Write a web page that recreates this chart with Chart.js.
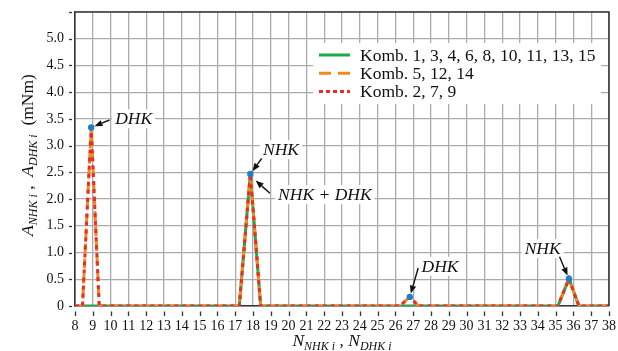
<!DOCTYPE html>
<html>
<head>
<meta charset="utf-8">
<script src="https://cdn.jsdelivr.net/npm/chart.js@4.4.0/dist/chart.umd.min.js"></script>
<style>
  html, body { margin: 0; padding: 0; background: #fff; }
  #wrap { width: 618px; height: 351px; position: relative; }
</style>
</head>
<body>
<div id="wrap"><canvas id="chart"></canvas></div>
<script>
const komb1X = [8, 17.23, 17.85, 18.43, 35.13, 35.75, 36.31, 38];
const komb1Y = [0, 0, 2.47, 0, 0, 0.51, 0, 0];

const komb5X = [8, 8.42, 8.91, 9.36, 17.23, 17.85, 18.43, 26.25, 26.81, 27.30, 35.13, 35.75, 36.31, 38];
const komb5Y = [0, 0, 3.34, 0, 0, 2.47, 0, 0, 0.17, 0, 0, 0.51, 0, 0];

const komb2X = [8, 8.42, 8.91, 9.36, 17.23, 17.85, 18.43, 26.25, 26.81, 27.30, 35.13, 35.75, 36.31, 38];
const komb2Y = [0, 0, 3.34, 0, 0, 2.47, 0, 0, 0.17, 0, 0, 0.51, 0, 0];

const peakX = [8.91, 17.85, 26.81, 35.75];
const peakY = [3.34, 2.47, 0.17, 0.51];

const legendLabels = ['Komb. 1, 3, 4, 6, 8, 10, 11, 13, 15', 'Komb. 5, 12, 14', 'Komb. 2, 7, 9'];

const xMin = 8, xMax = 38, yMin = 0, yMax = 5.5;

// annotations: text anchor (left, baseline) and arrow tail / head in data units
const notes = [
    { text: 'DHK', x: 10.26, y: 3.40, tail: [9.94, 3.48], head: [8.91, 3.34] },
    { text: 'NHK', x: 18.56, y: 2.82, tail: [18.49, 2.76], head: [17.85, 2.47] },
    { text: 'NHK + DHK', x: 19.41, y: 1.98, tail: [18.95, 2.11], head: [18.0, 2.39] },
    { text: 'DHK', x: 27.47, y: 0.64, tail: [27.28, 0.71], head: [26.81, 0.17] },
    { text: 'NHK', x: 33.26, y: 0.97, tail: [35.22, 0.92], head: [35.75, 0.51] }
];

const SERIF = '"Liberation Serif", "Times New Roman", serif';

function toPoints(xs, ys) {
    return xs.map((x, i) => ({ x: x, y: ys[i] }));
}

function drawRuns(ctx, runs, cx, baseline) {
    let total = 0;
    runs.forEach(r => { ctx.font = r.f; total += ctx.measureText(r.t).width; });
    let x = cx - total / 2;
    ctx.textAlign = 'left';
    ctx.textBaseline = 'alphabetic';
    runs.forEach(r => {
        ctx.font = r.f;
        ctx.fillText(r.t, x, baseline + (r.dy || 0));
        x += ctx.measureText(r.t).width;
    });
}

function drawArrow(ctx, x1, y1, x2, y2) {
    const ang = Math.atan2(y2 - y1, x2 - x1);
    const back = 3.5;
    const hx = x2 - Math.cos(ang) * back, hy = y2 - Math.sin(ang) * back;
    const len = 8, wid = 3.2;
    const bx = hx - Math.cos(ang) * len, by = hy - Math.sin(ang) * len;
    ctx.strokeStyle = '#111';
    ctx.fillStyle = '#111';
    ctx.lineWidth = 1.4;
    ctx.beginPath();
    ctx.moveTo(x1, y1);
    ctx.lineTo(bx, by);
    ctx.stroke();
    ctx.beginPath();
    ctx.moveTo(hx, hy);
    ctx.lineTo(bx - Math.sin(ang) * wid, by + Math.cos(ang) * wid);
    ctx.lineTo(bx + Math.sin(ang) * wid, by - Math.cos(ang) * wid);
    ctx.closePath();
    ctx.fill();
}

function noScalePadding(s) {
    s.paddingTop = 0;
    s.paddingBottom = 0;
    s.paddingLeft = 0;
    s.paddingRight = 0;
}

const extrasPlugin = {
    id: 'extras',
    beforeDatasetsDraw(chart) {
        const ctx = chart.ctx;
        const xs = chart.scales.x, ys = chart.scales.y;
        ctx.save();
        // white boxes behind the annotation texts
        ctx.font = 'italic 17.5px ' + SERIF;
        notes.forEach(n => {
            const px = xs.getPixelForValue(n.x), py = ys.getPixelForValue(n.y);
            const w = ctx.measureText(n.text).width;
            ctx.fillStyle = '#fff';
            ctx.fillRect(px - 3, py - 15, w + 6, 19);
        });
        // legend box
        ctx.fillStyle = '#fff';
        ctx.fillRect(313, 43, 288, 61);
        ctx.restore();
    },
    afterDraw(chart) {
        const ctx = chart.ctx;
        const a = chart.chartArea;
        const xs = chart.scales.x, ys = chart.scales.y;
        ctx.save();

        // frame top and right
        ctx.strokeStyle = '#3a3a3a';
        ctx.lineWidth = 1.6;
        ctx.beginPath();
        ctx.moveTo(a.left, a.top);
        ctx.lineTo(a.right, a.top);
        ctx.lineTo(a.right, a.bottom);
        ctx.stroke();

        // small detached tick marks
        ctx.strokeStyle = '#333';
        ctx.lineWidth = 1.3;
        ys.ticks.forEach(t => {
            const py = Math.round(ys.getPixelForValue(t.value)) + 0.5;
            ctx.beginPath();
            ctx.moveTo(a.left - 6, py);
            ctx.lineTo(a.left - 3, py);
            ctx.stroke();
        });
        xs.ticks.forEach(t => {
            const px = Math.round(xs.getPixelForValue(t.value)) + 0.5;
            ctx.beginPath();
            ctx.moveTo(px, a.bottom + 5.5);
            ctx.lineTo(px, a.bottom + 10);
            ctx.stroke();
        });

        // legend
        const ds = chart.data.datasets;
        const order = [3, 2, 1];
        order.forEach((di, row) => {
            const d = ds[di];
            const cy = 55 + row * 18.3;
            ctx.strokeStyle = d.borderColor;
            ctx.lineWidth = d.borderWidth;
            ctx.setLineDash(d.legendDash || []);
            ctx.beginPath();
            ctx.moveTo(319, cy);
            ctx.lineTo(350, cy);
            ctx.stroke();
            ctx.setLineDash([]);
            ctx.fillStyle = '#111';
            ctx.font = '17.5px ' + SERIF;
            ctx.textAlign = 'left';
            ctx.textBaseline = 'middle';
            ctx.fillText(legendLabels[row], 360, cy + 1);
        });

        // annotations
        notes.forEach(n => {
            const px = xs.getPixelForValue(n.x), py = ys.getPixelForValue(n.y);
            ctx.fillStyle = '#111';
            ctx.font = 'italic 17.5px ' + SERIF;
            ctx.textAlign = 'left';
            ctx.textBaseline = 'alphabetic';
            ctx.fillText(n.text, px, py);
            drawArrow(ctx, xs.getPixelForValue(n.tail[0]), ys.getPixelForValue(n.tail[1]),
                xs.getPixelForValue(n.head[0]), ys.getPixelForValue(n.head[1]));
        });

        // axis titles
        const big = 'italic 17.5px ' + SERIF;
        const sub = 'italic 12px ' + SERIF;
        const up = '17.5px ' + SERIF;
        ctx.fillStyle = '#111';
        drawRuns(ctx, [
            { t: 'N', f: big }, { t: 'NHK i', f: sub, dy: 4 },
            { t: ' , ', f: up },
            { t: 'N', f: big }, { t: 'DHK i', f: sub, dy: 4 }
        ], (a.left + a.right) / 2, 346);

        ctx.translate(33, 155);
        ctx.rotate(-Math.PI / 2);
        drawRuns(ctx, [
            { t: 'A', f: big }, { t: 'NHK i', f: sub, dy: 4 },
            { t: ' ,  ', f: up },
            { t: 'A', f: big }, { t: 'DHK i', f: sub, dy: 4 },
            { t: '  (mNm)', f: up }
        ], 0, 0);

        ctx.restore();
    }
};

const ctx = document.getElementById('chart').getContext('2d');
const chart = new Chart(ctx, {
    type: 'line',
    data: {
        datasets: [
            {
                label: 'peaks',
                data: toPoints(peakX, peakY),
                showLine: false,
                pointRadius: 3.2,
                pointBackgroundColor: '#1f7fc9',
                pointBorderWidth: 0,
                borderColor: '#1f7fc9',
                order: 0
            },
            {
                label: legendLabels[2],
                data: toPoints(komb2X, komb2Y),
                borderColor: '#e62d2a',
                borderWidth: 3,
                borderDash: [4, 4],
                legendDash: [4, 3],
                pointRadius: 0,
                tension: 0,
                order: 1
            },
            {
                label: legendLabels[1],
                data: toPoints(komb5X, komb5Y),
                borderColor: '#f08c1e',
                borderWidth: 3,
                borderDash: [10, 5],
                legendDash: [12, 7],
                pointRadius: 0,
                tension: 0,
                order: 2
            },
            {
                label: legendLabels[0],
                data: toPoints(komb1X, komb1Y),
                borderColor: '#1fa84a',
                borderWidth: 3,
                pointRadius: 0,
                tension: 0,
                order: 3
            }
        ]
    },
    options: {
        responsive: true,
        maintainAspectRatio: false,
        animation: false,
        layout: { padding: { top: 12, right: 9, left: 0, bottom: 0 } },
        plugins: {
            legend: { display: false },
            tooltip: { enabled: false }
        },
        scales: {
            x: {
                type: 'linear',
                min: xMin,
                max: xMax,
                ticks: {
                    stepSize: 1,
                    autoSkip: false,
                    maxRotation: 0,
                    padding: 12,
                    color: '#111',
                    font: { family: SERIF, size: 14 }
                },
                grid: { color: '#ababab', lineWidth: 1.3, drawTicks: false },
                border: { display: true, color: '#333', width: 1.6 },
                afterFit: s => { s.height = 45; noScalePadding(s); }
            },
            y: {
                min: yMin,
                max: yMax,
                ticks: {
                    stepSize: 0.5,
                    padding: 11,
                    color: '#111',
                    font: { family: SERIF, size: 14 },
                    callback: v => (v === 0 ? '0' : (v > 5.01 ? '' : v.toFixed(1)))
                },
                grid: { color: '#ababab', lineWidth: 1.3, drawTicks: false },
                border: { display: true, color: '#333', width: 1.6 },
                afterFit: s => { s.width = 75; noScalePadding(s); }
            }
        }
    },
    plugins: [extrasPlugin]
});
</script>
</body>
</html>
